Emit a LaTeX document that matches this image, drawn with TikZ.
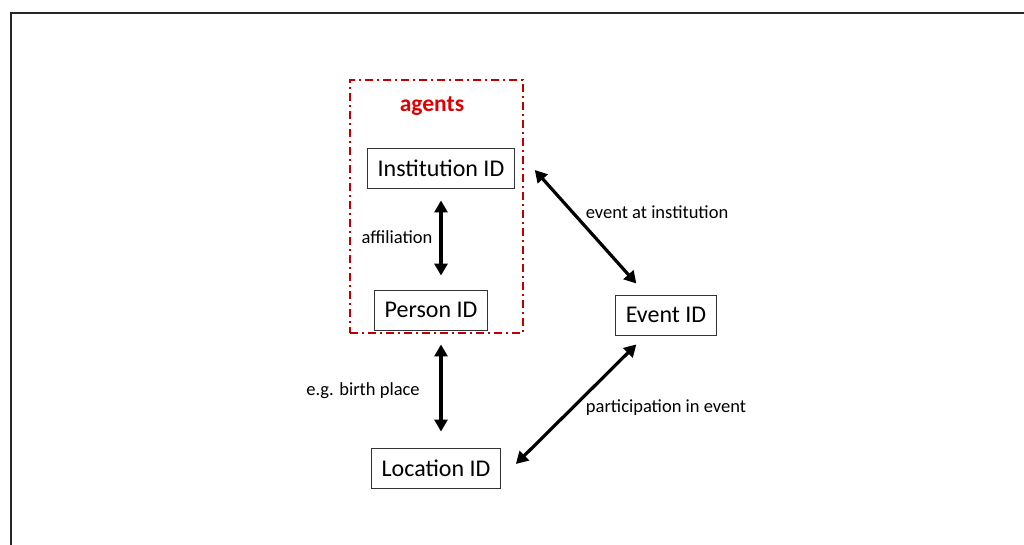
\documentclass[tikz,border=0pt]{standalone}
\usepackage{fontspec}
\setmainfont{Carlito}
\usetikzlibrary{arrows.meta}
\definecolor{agentred}{RGB}{192,0,0}
\definecolor{labelred}{RGB}{222,0,0}

\begin{document}
\begin{tikzpicture}[x=1pt,y=-1pt,
  idbox/.style={draw=black!80,line width=0.9pt,minimum height=40pt,inner xsep=10pt,font=\fontsize{24}{28}\selectfont},
  relation/.style={line width=3.2pt,{Triangle[width=13pt,length=12pt]}-{Triangle[width=13pt,length=12pt]}},
  rellabel/.style={font=\fontsize{18.5}{22}\selectfont}]

	\useasboundingbox (0,0) rectangle (1024,544);

	% outer frame (right and bottom sides lie outside the page)
	\draw[black!85,line width=2pt] (11,560) -- (11,13) -- (1040,13);

	% group of agents
	\node[draw=agentred,line width=1.8pt,dash pattern=on 8pt off 4pt on 2pt off 4pt,
	      minimum width=173pt,minimum height=253pt,inner sep=0pt] (agentsbox) at (436.5,206.5) {};
	\node[text=labelred,font=\fontsize{23.5}{28}\selectfont\bfseries] (agents) at (432,106) {agents};

	% identifiers
	\node[idbox] (inst) at (441,168) {Institution ID};
	\node[idbox] (person) at (431,310) {Person ID};
	\node[idbox] (event) at (666,315) {Event ID};
	\node[idbox] (loc) at (436,468) {Location ID};

	% relations
	\draw[relation] ([yshift=-12pt]inst.south) -- ([xshift=10pt,yshift=14pt]person.north);
	\draw[relation] ([xshift=10pt,yshift=-14pt]person.south) -- ([xshift=5pt,yshift=16pt]loc.north);
	\draw[relation] ([xshift=20pt,yshift=-2pt]inst.east) -- ([xshift=21pt,yshift=11pt]event.north west);
	\draw[relation] ([xshift=15pt,yshift=4pt]loc.east) -- ([xshift=21pt,yshift=-9pt]event.south west);

	% labels
	\node[rellabel] (affil) at (397,237) {affiliation};
	\node[rellabel] (birth) at (363,391) {e.g. birth place};
	\node[rellabel] (evinst) at (657,212) {event at institution};
	\node[rellabel] (partic) at (666,408) {participation in event};

\end{tikzpicture}
\end{document}
